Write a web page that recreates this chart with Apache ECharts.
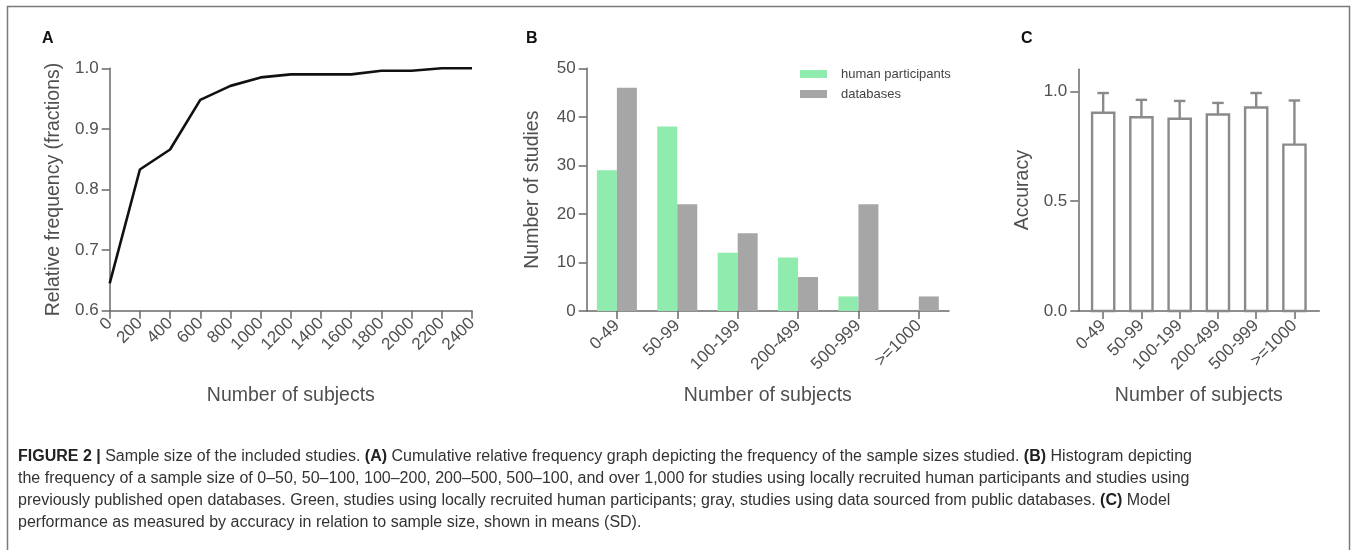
<!DOCTYPE html>
<html>
<head>
<meta charset="utf-8">
<script src="https://cdn.jsdelivr.net/npm/echarts@6/dist/echarts.min.js"></script>
<style>
html,body{margin:0;padding:0;background:#fff;}
#c{width:1357px;height:550px;}
</style>
</head>
<body>
<div id="c"></div>
<script>
// Panel A: cumulative relative frequency
const sizesA = [0, 200, 400, 600, 800, 1000, 1200, 1400, 1600, 1800, 2000, 2200, 2400];
const cumFreqA = [0.645, 0.833, 0.866, 0.948, 0.971, 0.985, 0.990, 0.990, 0.990, 0.996, 0.996, 1.0, 1.0];

// Panel B: histogram
const catsB = ['0-49', '50-99', '100-199', '200-499', '500-999', '>=1000'];
const humanB = [29, 38, 12, 11, 3, 0];
const dbB = [46, 22, 16, 7, 22, 3];

// Panel C: accuracy mean (SD)
const catsC = ['0-49', '50-99', '100-199', '200-499', '500-999', '>=1000'];
const accMean = [0.902, 0.882, 0.875, 0.894, 0.926, 0.757];
const accSD = [0.090, 0.079, 0.081, 0.053, 0.066, 0.201];

const captionLines = [
  '{b|FIGURE 2 |} Sample size of the included studies. {b|(A)} Cumulative relative frequency graph depicting the frequency of the sample sizes studied. {b|(B)} Histogram depicting',
  'the frequency of a sample size of 0\u201350, 50\u2013100, 100\u2013200, 200\u2013500, 500\u2013100, and over 1,000 for studies using locally recruited human participants and studies using',
  'previously published open databases. Green, studies using locally recruited human participants; gray, studies using data sourced from public databases. {b|(C)} Model',
  'performance as measured by accuracy in relation to sample size, shown in means (SD).'
];

const FONT = 'Liberation Sans, Arial, sans-serif';
const TXT = '#505050';
const AX = '#6a6a6a';
const CAP = 16;

function axisCommon() {
  return {
    axisLine: { show: true, onZero: false, lineStyle: { color: AX, width: 1.5 } },
    axisTick: { show: true, length: 8, lineStyle: { color: AX, width: 1.5 } },
    splitLine: { show: false },
    axisLabel: { color: TXT, fontSize: 17, fontFamily: FONT },
    nameTextStyle: { color: TXT, fontSize: 19.5, fontFamily: FONT },
    nameLocation: 'middle'
  };
}

const chart = echarts.init(document.getElementById('c'), null, { renderer: 'canvas' });

const graphics = [
  { type: 'rect', shape: { x: 7.5, y: 6.5, width: 1342, height: 620 }, style: { fill: 'none', stroke: '#7a7a7a', lineWidth: 1.5 }, silent: true },
  { type: 'text', left: 42, top: 31, style: { text: 'A', font: 'bold 16px ' + FONT, fill: '#111' } },
  { type: 'text', left: 526, top: 31, style: { text: 'B', font: 'bold 16px ' + FONT, fill: '#111' } },
  { type: 'text', left: 1021, top: 31, style: { text: 'C', font: 'bold 16px ' + FONT, fill: '#111' } }
];
captionLines.forEach((ln, i) => {
  graphics.push({
    type: 'text', x: 18, y: 456.7 + i * 22,
    style: {
      text: ln, fill: '#333', fontSize: CAP, fontFamily: FONT, verticalAlign: 'middle',
      rich: { b: { fontWeight: 'bold', fill: '#222', fontSize: CAP, fontFamily: FONT } }
    }
  });
});

const option = {
  animation: false,
  backgroundColor: '#fff',
  textStyle: { fontFamily: FONT },
  grid: [
    { left: 109.7, top: 68.3, width: 362.3, height: 242.4, containLabel: false },
    { left: 586.7, top: 68.3, width: 362.3, height: 242.7, containLabel: false },
    { left: 1078.3, top: 69.3, width: 241, height: 241.7, containLabel: false }
  ],
  legend: {
    orient: 'vertical', left: 800, top: 67.5, itemWidth: 27, itemHeight: 8, itemGap: 7, padding: 0,
    icon: 'rect',
    textStyle: { color: '#444', fontSize: 13, fontFamily: FONT, padding: [0, 0, 0, 9] },
    data: ['human participants', 'databases']
  },
  xAxis: [
    Object.assign(axisCommon(), {
      gridIndex: 0, type: 'value', min: 0, max: 2400, interval: 200,
      name: 'Number of subjects', nameGap: 75,
      axisLabel: { color: TXT, fontSize: 17, fontFamily: FONT, rotate: 45, margin: 10, formatter: v => String(v) }
    }),
    Object.assign(axisCommon(), {
      gridIndex: 1, type: 'category', data: catsB, boundaryGap: true,
      name: 'Number of subjects', nameGap: 75,
      axisTick: { show: true, alignWithLabel: true, length: 8, lineStyle: { color: AX, width: 1.5 } },
      axisLabel: { color: TXT, fontSize: 17, fontFamily: FONT, rotate: 45, margin: 12, interval: 0 }
    }),
    Object.assign(axisCommon(), {
      gridIndex: 2, type: 'value', min: -0.65, max: 5.65,
      name: 'Number of subjects', nameGap: 75,
      axisTick: { show: true, length: 8, lineStyle: { color: AX, width: 1.5 }, customValues: [0, 1, 2, 3, 4, 5] },
      axisLabel: {
        color: TXT, fontSize: 17, fontFamily: FONT, rotate: 45, margin: 12,
        customValues: [0, 1, 2, 3, 4, 5],
        formatter: v => catsC[Math.round(v)] || ''
      }
    })
  ],
  yAxis: [
    Object.assign(axisCommon(), {
      gridIndex: 0, type: 'value', min: 0.6, max: 1.0, interval: 0.1,
      name: 'Relative frequency (fractions)', nameGap: 46,
      axisLabel: { color: TXT, fontSize: 17, fontFamily: FONT, margin: 11, formatter: v => v.toFixed(1) }
    }),
    Object.assign(axisCommon(), {
      gridIndex: 1, type: 'value', min: 0, max: 50, interval: 10,
      name: 'Number of studies', nameGap: 44,
      axisLabel: { color: TXT, fontSize: 17, fontFamily: FONT, margin: 11 }
    }),
    Object.assign(axisCommon(), {
      gridIndex: 2, type: 'value', min: 0, max: 1.1,
      name: 'Accuracy', nameGap: 46,
      axisTick: { show: true, length: 8, lineStyle: { color: AX, width: 1.5 }, customValues: [0, 0.5, 1.0] },
      axisLabel: { color: TXT, fontSize: 17, fontFamily: FONT, margin: 11, customValues: [0, 0.5, 1.0], formatter: v => v.toFixed(1) }
    })
  ],
  series: [
    {
      type: 'line', xAxisIndex: 0, yAxisIndex: 0, showSymbol: false, symbol: 'none',
      lineStyle: { color: '#111', width: 2.6 },
      data: sizesA.map((x, i) => [x, cumFreqA[i]])
    },
    {
      name: 'human participants', type: 'bar', xAxisIndex: 1, yAxisIndex: 1,
      barWidth: 20, barGap: '0%', itemStyle: { color: '#8FEBAE' }, data: humanB
    },
    {
      name: 'databases', type: 'bar', xAxisIndex: 1, yAxisIndex: 1,
      barWidth: 20, barGap: '0%', itemStyle: { color: '#A6A6A6' }, data: dbB
    },
    {
      type: 'custom', xAxisIndex: 2, yAxisIndex: 2,
      data: accMean.map((m, i) => [i, m, m + accSD[i]]),
      encode: { x: 0, y: [1, 2] },
      renderItem: function (params, api) {
        const x = api.value(0), m = api.value(1), top = api.value(2);
        const pBase = api.coord([x, 0]);
        const pMean = api.coord([x, m]);
        const pTop = api.coord([x, top]);
        const unit = api.size([1, 0])[0];
        const hw = unit * 0.29;
        const cap = unit * 0.15;
        const st = { stroke: '#8a8a8a', lineWidth: 2.4, fill: 'none' };
        return {
          type: 'group',
          children: [
            { type: 'line', shape: { x1: pMean[0], y1: pMean[1], x2: pTop[0], y2: pTop[1] }, style: st },
            { type: 'line', shape: { x1: pTop[0] - cap, y1: pTop[1], x2: pTop[0] + cap, y2: pTop[1] }, style: st },
            { type: 'rect', shape: { x: pMean[0] - hw, y: pMean[1], width: hw * 2, height: pBase[1] - pMean[1] },
              style: { fill: '#fff', stroke: '#8a8a8a', lineWidth: 2.4 } }
          ]
        };
      }
    }
  ],
  graphic: graphics
};

chart.setOption(option);
</script>
</body>
</html>
